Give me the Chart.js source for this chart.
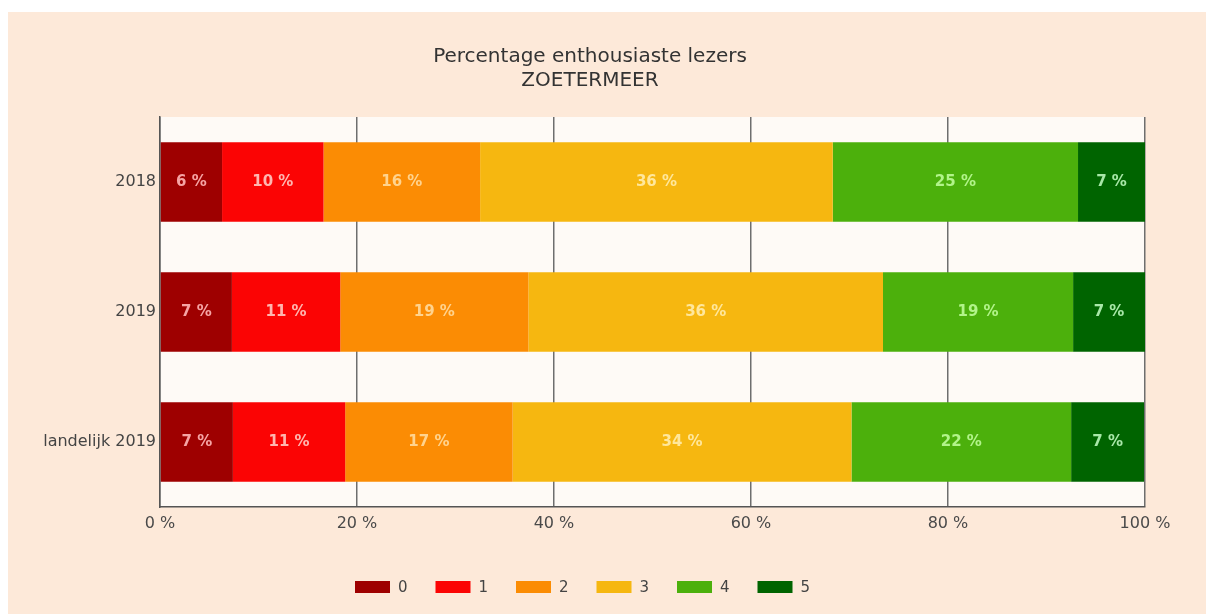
<!DOCTYPE html>
<html>
<head>
<meta charset="utf-8">
<script src="https://cdn.jsdelivr.net/npm/chart.js@4/dist/chart.umd.min.js"></script>
<style>
    html, body { margin: 0; padding: 0; background: #ffffff; }
    .panel {
        position: absolute;
        left: 8px;
        top: 12px;
        width: 1198px;
        height: 602px;
        background: #fde9d9;
    }
</style>
</head>
<body>
<div class="panel"><canvas id="chart"></canvas></div>
<script>
const categories = ['2018', '2019', 'landelijk 2019'];
const seriesNames = ['0', '1', '2', '3', '4', '5'];
const score0 = [6.3, 7.3, 7.4];
const score1 = [10.3, 11.0, 11.4];
const score2 = [15.9, 19.1, 17.0];
const score3 = [35.8, 36.0, 34.4];
const score4 = [24.9, 19.3, 22.3];
const score5 = [6.8, 7.3, 7.4];
const xTicks = [0, 20, 40, 60, 80, 100];
const titleLines = ['Percentage enthousiaste lezers', 'ZOETERMEER'];

const barColors = ['#9e0000', '#fb0404', '#fb8c04', '#f6b710', '#4cb00c', '#006400'];
const labelColors = ['#f6a4a4', '#ffb6b0', '#ffd38e', '#ffe79c', '#b2f48a', '#a8e8a8'];

const series = [score0, score1, score2, score3, score4, score5];

document.addEventListener('DOMContentLoaded', () => {
    const canvas = document.getElementById('chart');
    const font = '"DejaVu Sans", Verdana, sans-serif';

    const plotBackground = {
        id: 'plotBackground',
        beforeDraw(chart) {
            const { ctx, chartArea } = chart;
            ctx.save();
            ctx.fillStyle = '#fefaf6';
            ctx.fillRect(chartArea.left, chartArea.top, chartArea.right - chartArea.left, chartArea.bottom - chartArea.top);
            ctx.restore();
        }
    };

    const segmentLabels = {
        id: 'segmentLabels',
        afterDatasetsDraw(chart) {
            const ctx = chart.ctx;
            ctx.save();
            ctx.font = 'bold 15px ' + font;
            ctx.textAlign = 'center';
            ctx.textBaseline = 'middle';
            chart.data.datasets.forEach((ds, i) => {
                const meta = chart.getDatasetMeta(i);
                meta.data.forEach((bar, j) => {
                    const cx = (bar.x + bar.base) / 2;
                    ctx.fillStyle = labelColors[i];
                    ctx.fillText(Math.round(ds.data[j]) + ' %', cx, bar.y);
                });
            });
            ctx.restore();
        }
    };

    const titleAndLegend = {
        id: 'titleAndLegend',
        afterDraw(chart) {
            const ctx = chart.ctx;
            ctx.save();
            ctx.fillStyle = '#333333';
            ctx.font = '20px ' + font;
            ctx.textAlign = 'center';
            ctx.textBaseline = 'middle';
            ctx.fillText(titleLines[0], 582, 45);
            ctx.fillText(titleLines[1], 582, 69);

            ctx.font = '15px ' + font;
            ctx.textAlign = 'left';
            const legendY = 575;
            seriesNames.forEach((name, i) => {
                const x = 347 + i * 80.5;
                ctx.fillStyle = barColors[i];
                ctx.fillRect(x, legendY - 6, 35, 12);
                ctx.fillStyle = '#444444';
                ctx.fillText(name, x + 43, legendY + 1);
            });
            ctx.restore();
        }
    };

    new Chart(canvas, {
        type: 'bar',
        data: {
            labels: categories,
            datasets: series.map((values, i) => ({
                label: seriesNames[i],
                data: values,
                backgroundColor: barColors[i],
                borderWidth: 0,
                barPercentage: 0.61,
                categoryPercentage: 1
            }))
        },
        options: {
            indexAxis: 'y',
            responsive: true,
            maintainAspectRatio: false,
            animation: false,
            layout: {
                padding: { left: 0, top: 105, right: 61, bottom: 77 }
            },
            plugins: {
                legend: { display: false },
                title: { display: false },
                tooltip: { enabled: false }
            },
            scales: {
                x: {
                    stacked: true,
                    min: 0,
                    max: 100,
                    afterBuildTicks: scale => {
                        scale.ticks = xTicks.map(v => ({ value: v }));
                    },
                    afterFit: scale => { scale.height = 30; },
                    grid: {
                        color: '#6e6e6e',
                        lineWidth: 1.5,
                        drawTicks: false
                    },
                    border: { color: '#555555', width: 1.5 },
                    ticks: {
                        padding: 7,
                        color: '#4a4a4a',
                        font: { family: font, size: 16 },
                        callback: value => value + ' %'
                    }
                },
                y: {
                    stacked: true,
                    afterFit: scale => { scale.width = 152; },
                    grid: { display: false, drawTicks: false },
                    border: { display: true, color: '#555555', width: 1.5 },
                    ticks: {
                        padding: 4,
                        color: '#444444',
                        font: { family: font, size: 16 }
                    }
                }
            }
        },
        plugins: [plotBackground, segmentLabels, titleAndLegend]
    });
});
</script>
</body>
</html>
